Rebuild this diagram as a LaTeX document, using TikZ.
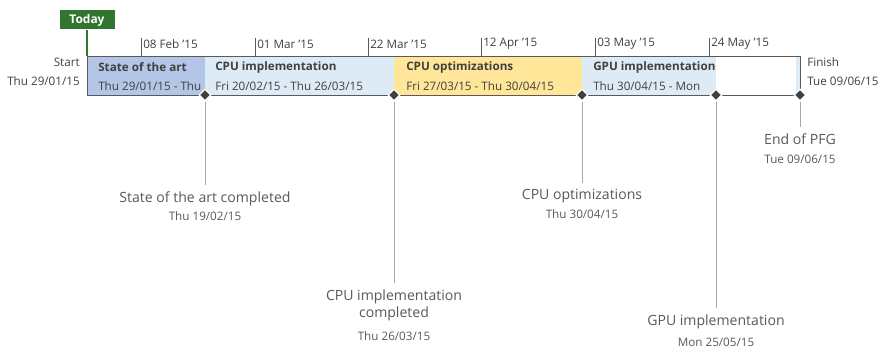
\documentclass[tikz,border=0pt]{standalone}
\usepackage{fontspec}
\setmainfont{Open Sans}
\usetikzlibrary{shapes.geometric}

\definecolor{todaygreen}{HTML}{31752F}
\definecolor{artblue}{HTML}{B4C6E7}
\definecolor{taskblue}{HTML}{DDEBF7}
\definecolor{taskyellow}{HTML}{FFE699}
\definecolor{bartext}{HTML}{404040}
\definecolor{labeltext}{HTML}{595959}
\definecolor{barline}{HTML}{595959}
\definecolor{msgray}{HTML}{A6A6A6}

\tikzset{
  barhead/.style={anchor=west, inner sep=0pt, text=bartext,
    font=\fontsize{8.3}{10}\selectfont\bfseries},
  bardate/.style={anchor=west, inner sep=0pt, text=bartext,
    font=\fontsize{8.3}{10}\selectfont},
  ticklab/.style={anchor=west, inner sep=0pt, text=bartext,
    font=\fontsize{8.3}{10}\selectfont},
  endlab/.style={inner sep=0pt, text=bartext,
    font=\fontsize{8.3}{10}\selectfont},
  mslabel/.style={anchor=north, inner xsep=2pt, inner ysep=4.5pt, align=center,
    text=labeltext, font=\fontsize{10}{12.5}\selectfont},
  msdate/.style={inner sep=0pt, text=labeltext,
    font=\fontsize{8.3}{10}\selectfont},
  milestone/.style={diamond, draw=white, line width=0.8pt, fill=bartext,
    inner sep=0pt, minimum size=8.5pt},
  msline/.style={draw=msgray, line width=0.6pt},
}

\begin{document}
\begin{tikzpicture}[x=0.025cm, y=-0.025cm]
  \useasboundingbox (0,0) rectangle (880,348);

  %% タスクの帯
  \fill[artblue]    (87,56)  rectangle (205,95);
  \fill[taskblue]   (205,56) rectangle (394,95);
  \fill[taskyellow] (394,56) rectangle (582,95);
  \fill[taskblue]   (582,56) rectangle (716,95);
  \fill[taskblue]   (796,56) rectangle (800,95);

  %% 枠
  \draw[barline, line width=0.7pt] (87,56) rectangle (800,95);

  %% 目盛り
  \foreach \tx/\tl in {141/08 Feb '15, 255/01 Mar '15, 368/22 Mar '15,
                       481/12 Apr '15, 595/03 May '15, 709/24 May '15}{
    \draw[barline, line width=0.6pt] (\tx,38) -- (\tx,56);
    \node[ticklab] at (\tx+2,44) {\tl};
  }

  %% 今日
  \node[fill=todaygreen, text=white, inner sep=0pt, minimum width=55*0.025cm,
    minimum height=19*0.025cm, font=\fontsize{8.5}{10}\selectfont\bfseries]
    (today) at (87,20) {Today};
  \draw[todaygreen, line width=0.8pt] (today.south) -- (87,56);

  %% 開始・終了
  \node[endlab, anchor=east] (start) at (80,62) {Start};
  \node[endlab, anchor=east] (startdate) at (80,81) {Thu 29/01/15};
  \node[endlab, anchor=west] (finish) at (807,62) {Finish};
  \node[endlab, anchor=west] (finishdate) at (807,81) {Tue 09/06/15};

  %% タスク名と期間
  \node[barhead] (art) at (98,67) {State of the art};
  \node[bardate] (artdate) at (98,86) {Thu 29/01/15 - Thu};
  \node[barhead] (cpuimpl) at (215,67) {CPU implementation};
  \node[bardate] (cpuimpldate) at (215,86) {Fri 20/02/15 - Thu 26/03/15};
  \node[barhead] (cpuopt) at (406,67) {CPU optimizations};
  \node[bardate] (cpuoptdate) at (406,86) {Fri 27/03/15 - Thu 30/04/15};
  \node[barhead] (gpuimpl) at (593,67) {GPU implementation};
  \node[bardate] (gpuimpldate) at (593,86) {Thu 30/04/15 - Mon};

  %% マイルストーン
  \node[milestone] (msart) at (205,95) {};
  \node[milestone] (mscpuimpl) at (394,95) {};
  \node[milestone] (mscpuopt) at (582,95) {};
  \node[milestone] (msgpuimpl) at (716,95) {};
  \node[milestone] (msend) at (800,95) {};

  %% マイルストーンのラベル
  \node[mslabel] (lart) at (205,185) {State of the art completed};
  \node[msdate] (dart) at (205,216) {Thu 19/02/15};
  \node[mslabel] (lcpuimpl) at (394,283) {CPU implementation\\completed};
  \node[msdate] (dcpuimpl) at (394,336) {Thu 26/03/15};
  \node[mslabel] (lcpuopt) at (582,183) {CPU optimizations};
  \node[msdate] (dcpuopt) at (582,214) {Thu 30/04/15};
  \node[mslabel] (lgpuimpl) at (716,308) {GPU implementation};
  \node[msdate] (dgpuimpl) at (716,342) {Mon 25/05/15};
  \node[mslabel] (lend) at (800,127) {End of PFG};
  \node[msdate] (dend) at (800,159) {Tue 09/06/15};

  \draw[msline] (msart) -- (lart);
  \draw[msline] (mscpuimpl) -- (lcpuimpl);
  \draw[msline] (mscpuopt) -- (lcpuopt);
  \draw[msline] (msgpuimpl) -- (lgpuimpl);
  \draw[msline] (msend) -- (lend);
\end{tikzpicture}
\end{document}
